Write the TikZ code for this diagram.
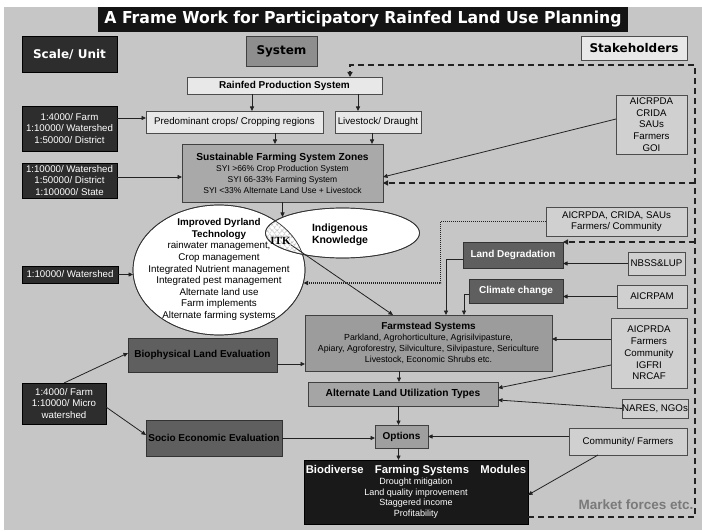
\documentclass[tikz,border=0pt]{standalone}
\usepackage{fontspec}
\usepackage{graphicx}
\setmainfont{Liberation Sans}
\newfontfamily\djv{DejaVu Sans}
\newfontfamily\itkfont{Liberation Serif}
\usetikzlibrary{arrows.meta,patterns.meta,shapes.geometric,calc}
\definecolor{bgc}{HTML}{C6C6C6}
\definecolor{darkc}{HTML}{2D2D2D}
\definecolor{midc}{HTML}{5F5F5F}
\definecolor{lightc}{HTML}{E8E8E8}
\definecolor{stakec}{HTML}{D0D0D0}
\definecolor{sfszc}{HTML}{A9A9A9}
\definecolor{farmc}{HTML}{9C9C9C}
\definecolor{alutc}{HTML}{A5A5A5}
\definecolor{optc}{HTML}{9F9F9F}
\definecolor{sysc}{HTML}{8E8E8E}
\definecolor{mfc}{HTML}{7A7A7A}
\definecolor{linec}{HTML}{222222}
\begin{document}
\begin{tikzpicture}[x=1pt,y=-1pt,
  every node/.style={inner sep=0pt, outer sep=0pt, align=center},
  body/.style={font=\fontsize{9.7}{11.7}\selectfont},
  lightbox/.style={rectangle, draw=black!70, line width=0.7pt, fill=lightc, body},
  darkbox/.style={rectangle, draw=black, line width=0.7pt, fill=darkc, text=white, body},
  midbox/.style={rectangle, draw=black!80, line width=0.7pt, fill=midc, font=\bfseries\fontsize{10}{12}\selectfont},
  stakebox/.style={rectangle, draw=black!70, line width=0.7pt, fill=stakec, body},
  graybox/.style={rectangle, draw=black!75, line width=0.7pt, fill=#1},
  headbox/.style={rectangle, line width=0.7pt, font=\djv\bfseries\fontsize{12}{14}\selectfont},
  arr/.style={draw=linec, line width=0.8pt, -{Triangle[length=4.5pt,width=4pt]}},
  dashl/.style={draw=linec, line width=1.7pt, dash pattern=on 6pt off 4pt, -{Triangle[length=5pt,width=5pt]}},
  dotl/.style={draw=linec, line width=1.1pt, dash pattern=on 1pt off 1pt, -{Triangle[length=4.5pt,width=4pt]}}
]
\useasboundingbox (0,0) rectangle (702,532);
\fill[white] (0,0) rectangle (702,532);
\fill[bgc] (4,7) rectangle (702,530);

% headers
\node[fill=black!92, minimum width=530pt, minimum height=25pt, text=white] (title) at (363,19.5)
  {\resizebox{517pt}{12.5pt}{\djv\bfseries A Frame Work for Participatory Rainfed Land Use Planning}};
\node[headbox, fill=darkc, draw=black, text=white, minimum width=95pt, minimum height=36pt] (scale) at (69.5,54) {Scale/ Unit};
\node[headbox, fill=sysc, draw=black!75, minimum width=71pt, minimum height=30pt] (system) at (281.5,51) {System};
\node[headbox, fill=lightc, draw=black!70, minimum width=106pt, minimum height=24pt] (stake) at (634,48) {Stakeholders};

% system column
\node[lightbox, minimum width=195pt, minimum height=17pt, font=\bfseries\fontsize{10}{12}\selectfont] (rainfed) at (284.5,85.5) {Rainfed Production System};
\node[lightbox, minimum width=177pt, minimum height=22pt] (pred) at (234.5,122) {Predominant crops/ Cropping regions};
\node[lightbox, minimum width=86pt, minimum height=22pt] (live) at (378,122) {Livestock/ Draught};
\node[graybox=sfszc, minimum width=201pt, minimum height=58pt, font=\fontsize{8.5}{11}\selectfont] (sfsz) at (282.5,173)
  {{\bfseries\fontsize{10.2}{12}\selectfont Sustainable Farming System Zones}\\SYI >66\% Crop Production System\\SYI 66-33\% Farming System\\SYI <33\% Alternate Land Use + Livestock};

% scale column
\node[darkbox, minimum width=95pt, minimum height=45pt] (L1) at (69.5,128.5) {1:4000/ Farm\\1:10000/ Watershed\\1:50000/ District};
\node[darkbox, minimum width=95pt, minimum height=35pt] (L2) at (69.5,180.5) {1:10000/ Watershed\\1:50000/ District\\1:100000/ State};
\node[darkbox, minimum width=96pt, minimum height=17pt] (L3) at (70,274.5) {1:10000/ Watershed};
\node[darkbox, minimum width=84pt, minimum height=41pt] (L4) at (64,403.5) {1:4000/ Farm\\1:10000/ Micro\\watershed};

% ellipses
\node[ellipse, draw=black!80, line width=0.7pt, fill=white, minimum width=172pt, minimum height=130pt] (big) at (219,270) {};
\node[ellipse, draw=black!80, line width=0.7pt, fill=white, minimum width=154pt, minimum height=50pt] (small) at (342.5,233) {};
\begin{scope}
  \clip (219,270) ellipse [x radius=86pt, y radius=65pt];
  \fill[pattern={Lines[angle=50,distance=4pt,line width=0.45pt]}] (342.5,233) ellipse [x radius=77pt, y radius=25pt];
  \fill[pattern={Lines[angle=-50,distance=4pt,line width=0.45pt]}] (342.5,233) ellipse [x radius=77pt, y radius=25pt];
\end{scope}
\draw[black!80, line width=0.7pt] (219,270) ellipse [x radius=86pt, y radius=65pt];
\draw[black!80, line width=0.7pt] (342.5,233) ellipse [x radius=77pt, y radius=25pt];
\node[font=\fontsize{9.8}{11.6}\selectfont] (bigtxt) at (219,269.5)
  {{\bfseries Improved Dyrland}\\{\bfseries Technology}\\rainwater management,\\Crop management\\Integrated Nutrient management\\Integrated pest management\\Alternate land use\\Farm implements\\Alternate farming systems};
\node[font=\bfseries\fontsize{10.5}{12}\selectfont] (smalltxt) at (340,235) {Indigenous\\Knowledge};
\node[font=\itkfont\bfseries\fontsize{11}{12}\selectfont] (itk) at (280.5,241) {ITK};

% stakeholders
\node[stakebox, minimum width=71pt, minimum height=59pt] (aic1) at (651.5,124.5) {AICRPDA\\CRIDA\\SAUs\\Farmers\\GOI};
\node[stakebox, minimum width=141pt, minimum height=29pt] (aic2) at (616.5,221.5) {AICRPDA, CRIDA, SAUs\\Farmers/ Community};
\node[midbox, text=white, minimum width=100pt, minimum height=26pt] (landdeg) at (513,255) {Land Degradation};
\node[midbox, text=white, minimum width=94pt, minimum height=24pt] (climate) at (516,291) {Climate change};
\node[stakebox, minimum width=57pt, minimum height=23pt] (nbss) at (656.5,263.5) {NBSS\&LUP};
\node[stakebox, minimum width=70pt, minimum height=23pt] (aicrpam) at (652,296.5) {AICRPAM};
\node[graybox=farmc, minimum width=247pt, minimum height=56pt, font=\fontsize{8.8}{10.8}\selectfont] (farm) at (428.5,343)
  {{\bfseries\fontsize{10}{12}\selectfont Farmstead Systems}\\Parkland, Agrohorticulture, Agrisilvipasture,\\Apiary, Agroforestry, Silviculture, Silvipasture, Sericulture\\Livestock, Economic Shrubs etc.};
\node[graybox=alutc, minimum width=190pt, minimum height=24pt, font=\bfseries\fontsize{10.2}{12}\selectfont] (alut) at (403,394) {Alternate Land Utilization Types};
\node[stakebox, minimum width=76pt, minimum height=70pt] (aic3) at (649,353) {AICPRDA\\Farmers\\Community\\IGFRI\\NRCAF};
\node[stakebox, minimum width=64pt, minimum height=19pt] (nares) at (655,408.5) {NARES, NGOs};
\node[graybox=optc, minimum width=53pt, minimum height=23pt, font=\bfseries\fontsize{10}{12}\selectfont] (options) at (401.5,436.5) {Options};
\node[stakebox, minimum width=118pt, minimum height=27pt] (commf) at (628,441.5) {Community/ Farmers};
\node[rectangle, fill=black!90, draw=black, minimum width=224pt, minimum height=64pt, text=white, font=\fontsize{9}{10.8}\selectfont] (bio) at (416,492)
  {{\bfseries\fontsize{11.3}{13}\selectfont Biodiverse\quad Farming Systems\quad Modules}\\Drought mitigation\\Land quality improvement\\Staggered income\\Profitability};
\node[midbox, minimum width=149pt, minimum height=34pt] (biophys) at (202.5,355) {Biophysical Land Evaluation};
\node[midbox, minimum width=136pt, minimum height=36pt] (socio) at (214,438) {Socio Economic Evaluation};
\node[font=\bfseries\fontsize{13.5}{16}\selectfont, text=mfc] (mf) at (636,505) {Market forces etc.};

% helper coordinates
\coordinate (mtop) at (695,65);
\coordinate (lenstop) at (282.5,217);
\coordinate (dotend) at (303.5,283);
\path ([xshift=-32.5pt]rainfed.south) coordinate (c1)
      ([xshift=73.5pt]rainfed.south) coordinate (c2)
      ([xshift=40.5pt]pred.south) coordinate (c3)
      ([xshift=-6pt]live.south) coordinate (c4)
      ([yshift=4pt]pred.west) coordinate (c5)
      ([yshift=-4pt]sfsz.west) coordinate (c6)
      ([yshift=-10pt]sfsz.east) coordinate (sfszin)
      ([yshift=14pt]aic3.west) coordinate (c7)
      ([xshift=-29.5pt]farm.south) coordinate (c8)
      ([xshift=-4.5pt]alut.south) coordinate (c9)
      ([xshift=-3pt]options.south) coordinate (c10)
      ([yshift=-9pt]biophys.east) coordinate (c11);

% dashed market-forces frame
\draw[dashl] ([yshift=-25pt]bio.east) -| (mtop) -| ([xshift=65.5pt]rainfed.north);
\draw[dashl] (mtop |- sfszin) -- (sfszin);
\draw[dashl] (mtop |- landdeg.north east) -- (landdeg.north east);

% connectors
\draw[arr] (c1) -- (c1 |- pred.north);
\draw[arr] (c2) -- (c2 |- live.north);
\draw[arr] (c3) -- (c3 |- sfsz.north);
\draw[arr] (c4) -- (c4 |- sfsz.north);
\draw[arr] (L1.east |- c5) -- (c5);
\draw[arr] (L2.east |- c6) -- (c6);
\draw[arr] (L3.east) -- (L3.east -| big.west);
\draw[arr] ([yshift=5.5pt]aic1.west) -- ([yshift=-4pt]sfsz.east);
\draw[arr] (sfsz.south) -- (lenstop);
\draw[arr] (itk.south east) -- ([xshift=-35.5pt]farm.north);
\draw[dotl] (aic2.west) -| ([xshift=137pt]dotend) -- (dotend);
\draw[arr] ([yshift=-4pt]landdeg.west) -| ([xshift=17.5pt]farm.north);
\draw[arr] ([yshift=-3pt]climate.west) -| ([xshift=35.5pt]farm.north);
\draw[arr] (nbss.west) -- (landdeg.east |- nbss.west);
\draw[arr] (aicrpam.west) -- (climate.east |- aicrpam.west);
\draw[arr] (c7) -- (farm.east |- c7);
\draw[arr] ([yshift=-12pt]aic3.west) -- ([yshift=6pt]alut.east);
\draw[arr] (nares.west) -- ([yshift=-6pt]alut.east);
\draw[arr] (c8) -- (c8 |- alut.north);
\draw[arr] (c9) -- (c9 |- options.north);
\draw[arr] (c10) -- (c10 |- bio.north);
\draw[arr] (commf.west |- options.east) -- (options.east);
\draw[arr] ([xshift=-30pt]commf.south) -- ([yshift=-3pt]bio.east);
\draw[arr] (c11) -- (farm.west |- c11);
\draw[arr] (socio.east) -- (options.west |- socio.east);
\draw[arr] (L4.north) -- ([yshift=2pt]biophys.west);
\draw[arr] ([yshift=-3.5pt]L4.east) -- ([yshift=3pt]socio.west);
\end{tikzpicture}
\end{document}
